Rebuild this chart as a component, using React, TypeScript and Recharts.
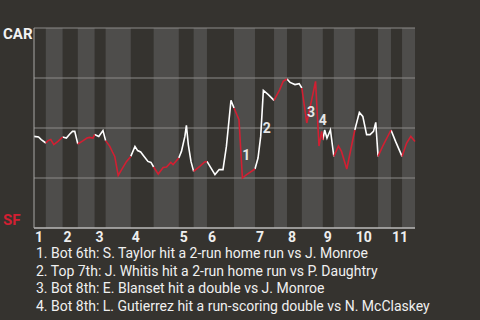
import { ComposedChart, Line, XAxis, YAxis, CartesianGrid, ReferenceArea, ReferenceDot } from "recharts";

const BG = "#35332f";
const BAND = "#4e4d4b";
const RED = "#d21f32";

// half-inning edges, in game progress units (0-100)
const halfBounds = [0, 3.1, 7.5, 11.5, 15.9, 18.8, 25.4, 31.4, 38.0, 41.9, 45.4, 52.5, 58.0, 63.0, 66.4, 70.3, 75.8, 78.7, 84.2, 90.3, 93.7, 96.6, 100];
const inningLabels = ["1", "2", "3", "4", "5", "6", "7", "8", "9", "10", "11"];

const playX = [
  0, 1.2, 1.9, 3.1, 3.7, 4.4, 5.2, 6.3, 7.5, 8.5, 9.4, 10.1, 10.7, 11.5, 12.9, 13.9, 14.6, 15.5, 15.9, 17.0, 18.1, 18.8,
  19.9, 20.6, 21.2, 22.1, 23.0, 24.3, 25.4, 26.5, 27.2, 28.0, 28.9, 29.9, 30.7, 31.4, 32.6, 33.9, 34.8, 35.9, 36.5, 38.0,
  38.7, 39.6, 40.0, 40.5, 41.2, 41.9, 43.5, 44.8, 45.4, 47.5, 48.6, 49.6, 50.5, 51.7, 52.5, 53.8, 54.7, 55.8, 58.0,
  58.8, 59.5, 60.2, 61.5, 63.0, 64.5, 65.4, 66.4, 67.2, 68.5, 69.6, 70.3, 71.6, 73.9, 74.8, 75.5, 75.8, 76.3, 76.9, 77.8, 78.7,
  79.9, 80.7, 82.1, 84.2, 85.4, 86.3, 87.3, 88.2, 89.1, 89.7, 90.3, 91.5, 93.7, 94.9, 96.6, 97.8, 98.9, 100,
];
const carWinProb = [
  0.458, 0.455, 0.442, 0.425, 0.437, 0.442, 0.417, 0.433, 0.455, 0.45, 0.47, 0.483, 0.483, 0.42, 0.437, 0.45, 0.453, 0.45, 0.467, 0.458, 0.487, 0.437,
  0.408, 0.38, 0.358, 0.263, 0.292, 0.333, 0.358, 0.408, 0.387, 0.38, 0.358, 0.333, 0.328, 0.305, 0.27, 0.303, 0.305, 0.328, 0.317, 0.35,
  0.383, 0.458, 0.513, 0.417, 0.333, 0.283, 0.308, 0.33, 0.333, 0.267, 0.292, 0.292, 0.408, 0.638, 0.6, 0.542, 0.25, 0.267, 0.295,
  0.35, 0.458, 0.688, 0.667, 0.638, 0.692, 0.733, 0.745, 0.728, 0.717, 0.722, 0.7, 0.525, 0.733, 0.41, 0.483, 0.44, 0.49, 0.45, 0.49, 0.358,
  0.41, 0.383, 0.295, 0.49, 0.578, 0.558, 0.467, 0.467, 0.483, 0.528, 0.358, 0.408, 0.49, 0.433, 0.358, 0.425, 0.458, 0.433,
];

const markNums = ["1", "2", "3", "4"];
const markX = [55.7, 61.1, 72.7, 75.8];
const markY = [0.367, 0.5, 0.58, 0.54];

const notes = [
  "1. Bot 6th: S. Taylor hit a 2-run home run vs J. Monroe",
  "2. Top 7th: J. Whitis hit a 2-run home run vs P. Daughtry",
  "3. Bot 8th: E. Blanset hit a double vs J. Monroe",
  "4. Bot 8th: L. Gutierrez hit a run-scoring double vs N. McClaskey",
];

const inningStarts = halfBounds.filter((_, i) => i % 2 === 0 && i < halfBounds.length - 1);

// true when the segment lies in a top half (CAR batting)
const segTop = playX.slice(0, -1).map((x, i) => {
  const mid = (x + playX[i + 1]) / 2;
  let h = 0;
  while (h < halfBounds.length - 2 && mid >= halfBounds[h + 1]) h++;
  return h % 2 === 0;
});

const data = playX.map((x, i) => {
  const left = i > 0 ? segTop[i - 1] : null;
  const right = i < segTop.length ? segTop[i] : null;
  const p = carWinProb[i];
  return {
    x,
    top: left === true || right === true ? p : null,
    bot: left === false || right === false ? p : null,
  };
});

const InningTick = (props: any) => {
  const idx = inningStarts.indexOf(props.payload.value);
  return (
    <text x={props.x + 1} y={props.y} dy={6} textAnchor="start" fill="#eeeeee" fontSize={14} fontWeight="bold" fontFamily="Roboto">
      {inningLabels[idx]}
    </text>
  );
};

const TeamTick = (props: any) => {
  const v = props.payload.value;
  if (v === 1)
    return (
      <text x={3} y={props.y + 11} fill="#f2f2f2" fontSize={15} fontWeight="bold" fontFamily="Roboto">
        CAR
      </text>
    );
  if (v === 0)
    return (
      <text x={3} y={props.y - 3} fill={RED} fontSize={15} fontWeight="bold" fontFamily="Roboto">
        SF
      </text>
    );
  return <g />;
};

export default function App() {
  return (
    <div style={{ position: "fixed", left: 0, top: 0, width: 480, height: 320, background: BG, fontFamily: "Roboto" }}>
      <ComposedChart width={480} height={250} data={data} margin={{ top: 28, right: 65, bottom: 0, left: 0 }}>
        {halfBounds.slice(0, -1).map((b, i) =>
          i % 2 === 1 ? (
            <ReferenceArea key={i} x1={b} x2={halfBounds[i + 1]} y1={0} y2={1} fill={BAND} fillOpacity={1} stroke="none" zIndex={-200} />
          ) : null
        )}
        <CartesianGrid vertical={false} stroke="#8c8b89" strokeWidth={1} />
        <XAxis
          type="number"
          dataKey="x"
          domain={[0, 100]}
          ticks={inningStarts}
          interval={0}
          height={22}
          tickLine={false}
          axisLine={{ stroke: "#d0d0d0" }}
          tick={<InningTick />}
        />
        <YAxis
          type="number"
          domain={[0, 1]}
          ticks={[0, 0.25, 0.5, 0.75, 1]}
          interval={0}
          width={34}
          tickLine={false}
          axisLine={{ stroke: "#a8a7a5" }}
          tick={<TeamTick />}
        />
        <Line dataKey="top" stroke="#ffffff" strokeWidth={1.6} dot={false} isAnimationActive={false} connectNulls={false} />
        <Line dataKey="bot" stroke={RED} strokeWidth={1.6} dot={false} isAnimationActive={false} connectNulls={false} />
        {markNums.map((n, i) => (
          <ReferenceDot
            key={n}
            x={markX[i]}
            y={markY[i]}
            r={0}
            shape={(p: any) => (
              <text x={p.cx} y={p.cy} dy={5} textAnchor="middle" fill="#e6e6e6" fontSize={14} fontWeight="bold" fontFamily="Roboto">
                {n}
              </text>
            )}
          />
        ))}
      </ComposedChart>
      <div style={{ position: "absolute", left: 36, top: 245, fontSize: 14, lineHeight: "17.67px", color: "#f0f0f0" }}>
        {notes.map((t) => (
          <div key={t}>{t}</div>
        ))}
      </div>
    </div>
  );
}
